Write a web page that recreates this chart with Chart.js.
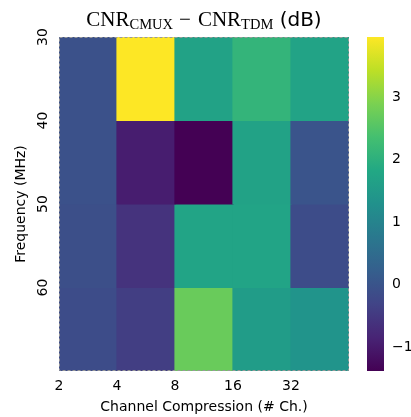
<!DOCTYPE html>
<html><head><meta charset="utf-8">
<script src="https://cdn.jsdelivr.net/npm/chart.js@4/dist/chart.umd.min.js"></script>
<style>
html,body{margin:0;padding:0;background:#fff;}
#wrap{position:relative;width:411px;height:417px;}
canvas{position:absolute;left:0;top:0;}
</style></head>
<body><div id="wrap"><canvas id="main" width="411" height="417"></canvas><canvas id="cbar" width="411" height="417"></canvas></div>
<script>
// ---- data ----
const xTickLabels = ['2', '4', '8', '16', '32'];
const freqEdges = [30, 40, 50, 60, 70];
const yTickLabels = ['30', '40', '50', '60'];
// rows: 30-40, 40-50, 50-60, 60-70 MHz; columns: compression bins
const row30 = [-0.05, 3.96, 1.68, 2.10, 1.70];
const row40 = [-0.05, -0.95, -1.38, 1.68, 0.00];
const row50 = [-0.10, -0.60, 1.72, 1.72, -0.15];
const row60 = [-0.15, -0.42, 2.72, 1.55, 1.35];
const rows = [row30, row40, row50, row60];
const vmin = -1.38, vmax = 3.96;
const cbarTicks = [-1, 0, 1, 2, 3];

// ---- viridis colormap ----
const VIR = ['#440154','#482475','#414487','#355f8d','#2a788e','#21918c','#22a884','#44bf70','#7ad151','#bddf26','#fde725'];
function hex2rgb(h){return [parseInt(h.slice(1,3),16),parseInt(h.slice(3,5),16),parseInt(h.slice(5,7),16)];}
function viridis(v){
  let t=(v-vmin)/(vmax-vmin); t=Math.max(0,Math.min(1,t));
  const p=t*(VIR.length-1); const i=Math.min(Math.floor(p),VIR.length-2); const f=p-i;
  const a=hex2rgb(VIR[i]), b=hex2rgb(VIR[i+1]);
  return 'rgb('+a.map((c,k)=>Math.round(c+(b[k]-c)*f)).join(',')+')';
}

const datasets = rows.map((vals, r) => ({
  data: vals.map((v, c) => ({x: c + 0.5, y: [freqEdges[r], freqEdges[r + 1]]})),
  backgroundColor: vals.map(viridis),
  borderWidth: 0,
  inflateAmount: 0.6,
  barPercentage: 1,
  categoryPercentage: 1,
  grouped: false
}));

const FONT = 'DejaVu Sans';

const titlePlugin = {
  id: 'mathTitle',
  afterDraw(chart) {
    const ctx = chart.ctx;
    const serifBig = '21px "Liberation Serif"', serifSm = '14.5px "Liberation Serif"', sans = '20px "DejaVu Sans"';
    const parts = [
      {t:'CNR', f:serifBig, b:26, g:0},
      {t:'CMUX', f:serifSm, b:28.5, g:0},
      {t:'\u2212', f:serifBig, b:26, g:6},
      {t:'CNR', f:serifBig, b:26, g:7},
      {t:'TDM', f:serifSm, b:28.5, g:0},
      {t:' (dB)', f:sans, b:26, g:0}
    ];
    ctx.save();
    let total = 0;
    parts.forEach(p => { ctx.font = p.f; p.w = ctx.measureText(p.t).width; total += p.g + p.w; });
    const ca = chart.chartArea;
    let x = (ca.left + ca.right) / 2 - total / 2;
    ctx.fillStyle = '#000'; ctx.textBaseline = 'alphabetic'; ctx.textAlign = 'left';
    parts.forEach(p => { x += p.g; ctx.font = p.f; ctx.fillText(p.t, x, p.b); x += p.w; });
    // dashed frame
    ctx.strokeStyle = '#999'; ctx.lineWidth = 1; ctx.setLineDash([3, 2]);
    ctx.strokeRect(ca.left + 0.5, ca.top + 0.5, ca.right - ca.left - 1, ca.bottom - ca.top - 1);
    ctx.restore();
  }
};

new Chart(document.getElementById('main'), {
  type: 'bar',
  data: { datasets },
  plugins: [titlePlugin],
  options: {
    responsive: false, animation: false,
    layout: { padding: { top: 37, right: 62, left: 0, bottom: 0 } },
    plugins: { legend: { display: false }, tooltip: { enabled: false }, title: { display: false } },
    scales: {
      x: {
        type: 'linear', min: 0, max: 5, offset: false,
        grid: { display: false, drawTicks: false, offset: false },
        border: { display: false },
        ticks: { stepSize: 1, padding: 7, color: '#000', font: { family: FONT, size: 14 },
          maxRotation: 0, autoSkip: false,
          callback: (v) => xTickLabels[v] !== undefined ? xTickLabels[v] : '' },
        title: { display: true, text: 'Channel Compression (# Ch.)', color: '#000',
          font: { family: FONT, size: 14 }, padding: { top: 0, bottom: 1 } },
        afterFit: (s) => { s.height = 46; }
      },
      y: {
        type: 'linear', min: 30, max: 70, reverse: true,
        grid: { display: false, drawTicks: false },
        border: { display: false },
        ticks: { stepSize: 10, padding: 7, color: '#000', font: { family: FONT, size: 14 },
          minRotation: 90, maxRotation: 90, crossAlign: 'center', autoSkip: false,
          callback: (v) => { const i = freqEdges.indexOf(v); return yTickLabels[i] !== undefined ? yTickLabels[i] : ''; } },
        title: { display: true, text: 'Frequency (MHz)', color: '#000',
          font: { family: FONT, size: 14 }, padding: { top: 13, bottom: 0 } },
        afterFit: (s) => { s.width = 59; }
      }
    }
  }
});

// ---- colorbar ----
const gradPlugin = {
  id: 'grad',
  beforeDatasetsDraw(chart) {
    const ca = chart.chartArea, ctx = chart.ctx;
    const g = ctx.createLinearGradient(0, ca.bottom, 0, ca.top);
    VIR.forEach((c, i) => g.addColorStop(i / (VIR.length - 1), c));
    ctx.save(); ctx.fillStyle = g;
    ctx.fillRect(ca.left, ca.top, ca.right - ca.left, ca.bottom - ca.top);
    ctx.restore();
  }
};
new Chart(document.getElementById('cbar'), {
  type: 'bar',
  data: { labels: [''], datasets: [{ data: [] }] },
  plugins: [gradPlugin],
  options: {
    responsive: false, animation: false,
    layout: { padding: { top: 37, bottom: 46, left: 367, right: 0 } },
    plugins: { legend: { display: false }, tooltip: { enabled: false } },
    scales: {
      x: { display: false },
      y: {
        position: 'right', min: vmin, max: vmax,
        grid: { display: false, drawTicks: false }, border: { display: false },
        afterBuildTicks: (s) => { s.ticks = cbarTicks.map(v => ({ value: v })); },
        ticks: { padding: 8, color: '#000', font: { family: FONT, size: 14 },
          callback: (v) => (v < 0 ? '\u2212' + Math.abs(v) : String(v)) },
        afterFit: (s) => { s.width = 27; }
      }
    }
  }
});
</script></body></html>
